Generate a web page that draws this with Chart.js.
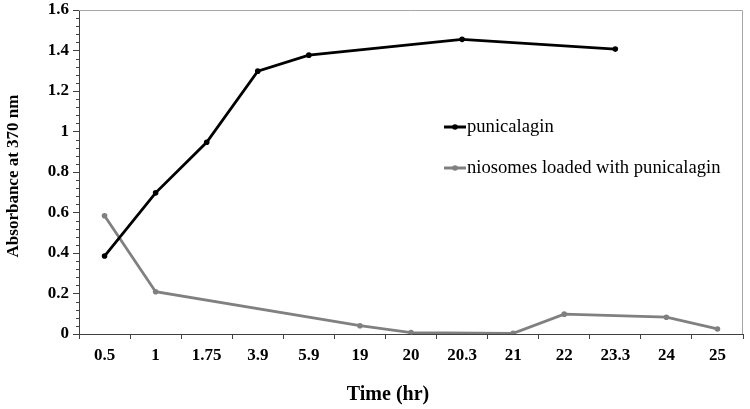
<!DOCTYPE html>
<html>
<head>
<meta charset="utf-8">
<script src="https://cdn.jsdelivr.net/npm/chart.js@4"></script>
<style>
html,body{margin:0;padding:0;background:#fff;}
#wrap{width:750px;height:409px;position:relative;}
</style>
</head>
<body>
<div id="wrap"><canvas id="c" width="750" height="409"></canvas></div>
<script>
const categories = ['0.5','1','1.75','3.9','5.9','19','20','20.3','21','22','23.3','24','25'];
const punicalagin = [0.385,0.697,0.947,1.298,1.377,null,null,1.455,null,null,1.407,null,null];
const niosomes = [0.584,0.209,null,null,null,0.041,0.007,null,0.003,0.098,null,0.083,0.025];
const yTicks = [0,0.2,0.4,0.6,0.8,1,1.2,1.4,1.6];
const seriesNames = ['punicalagin','niosomes loaded with punicalagin'];
const xTitle = 'Time (hr)';
const yTitle = 'Absorbance at 370 nm';

const FONT = '"Liberation Serif","Times New Roman",serif';

const decor = {
  id:'decor',
  afterDraw(chart){
    const ctx = chart.ctx, ca = chart.chartArea, y = chart.scales.y;
    ctx.save();
    // plot border top/right
    ctx.strokeStyle = '#a6a6a6'; ctx.lineWidth = 1;
    ctx.beginPath();
    ctx.moveTo(ca.left, ca.top+0.5); ctx.lineTo(ca.right-0.5, ca.top+0.5); ctx.lineTo(ca.right-0.5, ca.bottom);
    ctx.stroke();
    // minor ticks
    ctx.strokeStyle = '#404040';
    for(let i=0;i<=40;i++){
      if(i%5===0) continue;
      const py = Math.round(y.getPixelForValue(i*0.04))+0.5;
      ctx.beginPath(); ctx.moveTo(ca.left-3, py); ctx.lineTo(ca.left, py); ctx.stroke();
    }
    // axis titles
    ctx.fillStyle = '#000';
    ctx.textAlign = 'center'; ctx.textBaseline = 'middle';
    ctx.font = 'bold 20px '+FONT;
    ctx.fillText(xTitle, 388, 395);
    ctx.font = 'bold 17px '+FONT;
    ctx.save();
    ctx.translate(14, 176);
    ctx.rotate(-Math.PI/2);
    ctx.fillText(yTitle, 0, 0);
    ctx.restore();
    // legend
    const ys = [127,168];
    chart.data.datasets.forEach((ds,i)=>{
      const yy = ys[i];
      ctx.strokeStyle = ds.borderColor; ctx.lineWidth = 3;
      ctx.beginPath(); ctx.moveTo(444, yy); ctx.lineTo(466, yy); ctx.stroke();
      ctx.fillStyle = ds.borderColor;
      ctx.beginPath(); ctx.arc(455, yy, 2.8, 0, Math.PI*2); ctx.fill();
      ctx.fillStyle = '#000';
      ctx.font = '18.6px '+FONT;
      ctx.textAlign = 'left'; ctx.textBaseline = 'middle';
      ctx.fillText(ds.label, 467, yy);
    });
    ctx.restore();
  }
};

new Chart(document.getElementById('c'), {
  type:'line',
  data:{
    labels: categories,
    datasets:[
      {label:seriesNames[0], data:punicalagin, borderColor:'#000000', backgroundColor:'#000000', borderWidth:2.8, pointRadius:2.8, pointBorderWidth:0, spanGaps:true, tension:0},
      {label:seriesNames[1], data:niosomes, borderColor:'#808080', backgroundColor:'#808080', borderWidth:2.8, pointRadius:2.8, pointBorderWidth:0, spanGaps:true, tension:0}
    ]
  },
  options:{
    responsive:false, animation:false,
    layout:{padding:{top:0,right:7,left:0,bottom:0}},
    plugins:{legend:{display:false}, tooltip:{enabled:false}},
    scales:{
      x:{
        offset:true,
        grid:{display:true, drawOnChartArea:false, offset:true, tickLength:5, color:'#404040', tickColor:'#404040'},
        border:{color:'#404040', width:1},
        ticks:{font:{family:FONT, size:17, weight:'bold'}, color:'#000', padding:6, maxRotation:0, autoSkip:false},
        afterFit(s){ s.height = 75; }
      },
      y:{
        min:0, max:1.6,
        afterBuildTicks(s){ s.ticks = yTicks.map(v=>({value:v})); },
        grid:{display:true, drawOnChartArea:false, tickLength:6, color:'#404040', tickColor:'#404040'},
        border:{color:'#404040', width:1},
        ticks:{font:{family:FONT, size:17, weight:'bold'}, color:'#000', padding:4,
          callback:(v)=>String(Math.round(v*10)/10)},
        afterFit(s){ s.width = 79; s.paddingTop = 10; s.paddingBottom = 0; }
      }
    }
  },
  plugins:[decor]
});
</script>
</body>
</html>
